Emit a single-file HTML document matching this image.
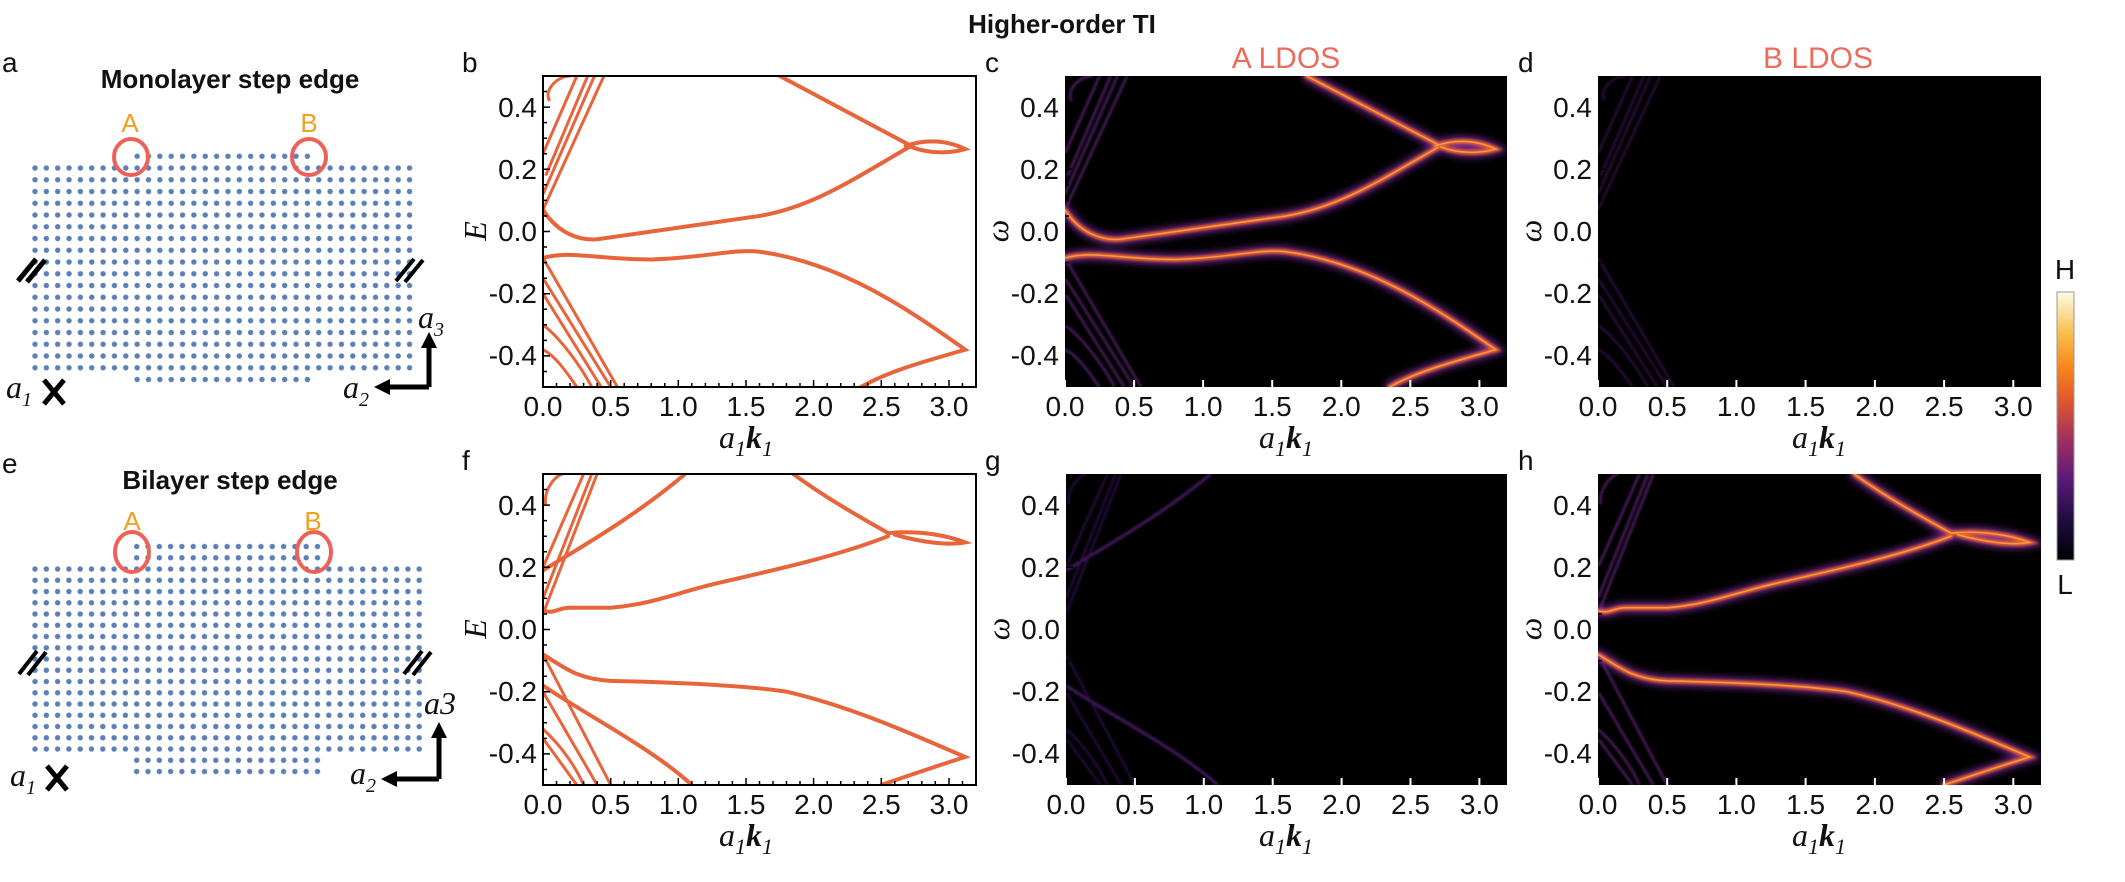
<!DOCTYPE html>
<html><head><meta charset="utf-8"><style>
html,body{margin:0;padding:0;background:#fff}
svg{display:block}
.tk{font-family:"Liberation Sans",sans-serif;font-size:28px;fill:#111}
.lab{font-family:"Liberation Serif",serif;font-style:italic;font-size:32px;fill:#111}
.ttl{font-family:"Liberation Sans",sans-serif;font-weight:bold;font-size:26px;fill:#111}
.pl{font-family:"Liberation Sans",sans-serif;font-size:28px;fill:#111}
.ld{font-family:"Liberation Sans",sans-serif;font-size:30px;fill:#ee6a5a}
.ab{font-family:"Liberation Sans",sans-serif;font-size:26px;fill:#f0a020}
</style></head><body>
<svg width="2125" height="882" viewBox="0 0 2125 882" xmlns="http://www.w3.org/2000/svg">
<defs>
<pattern id="dotT" patternUnits="userSpaceOnUse" x="29.325" y="162.125" width="11.35" height="11.75"><circle cx="5.675" cy="5.875" r="2.7" fill="#5b80b8"/></pattern>
<pattern id="dotB" patternUnits="userSpaceOnUse" x="29.35" y="563.375" width="11.3" height="11.25"><circle cx="5.65" cy="5.625" r="2.7" fill="#5b80b8"/></pattern>
<linearGradient id="cb" x1="0" y1="1" x2="0" y2="0">
<stop offset="0" stop-color="#000004"/><stop offset="0.15" stop-color="#200c40"/><stop offset="0.3" stop-color="#5a1a78"/><stop offset="0.45" stop-color="#a03060"/><stop offset="0.6" stop-color="#e05a2c"/><stop offset="0.72" stop-color="#f7861a"/><stop offset="0.85" stop-color="#f8c050"/><stop offset="1" stop-color="#fdfbe8"/>
</linearGradient>
<filter id="bl6" x="-20%" y="-20%" width="140%" height="140%"><feGaussianBlur stdDeviation="4"/></filter>
<filter id="bl2" x="-20%" y="-20%" width="140%" height="140%"><feGaussianBlur stdDeviation="1.2"/></filter>

<g id="topMain" fill="none" stroke-linecap="round">
<path vector-effect="non-scaling-stroke" d="M0,0.07 C0.1,0.0 0.25,-0.03 0.4,-0.025 C0.8,0.0 1.3,0.03 1.6,0.05 C2.0,0.08 2.3,0.17 2.7,0.27"/>
<path vector-effect="non-scaling-stroke" d="M1.75,0.5 C2.1,0.42 2.4,0.35 2.7,0.28"/>
<path vector-effect="non-scaling-stroke" d="M2.68,0.275 C2.85,0.3 3.0,0.29 3.12,0.265 C3.0,0.25 2.85,0.25 2.72,0.272"/>
<path vector-effect="non-scaling-stroke" d="M0,-0.085 C0.2,-0.06 0.4,-0.09 0.8,-0.09 C1.2,-0.085 1.4,-0.055 1.6,-0.065 C2.2,-0.1 2.7,-0.25 3.12,-0.38 C2.8,-0.42 2.55,-0.45 2.35,-0.5"/>
</g>
<g id="topSteep" fill="none">
<path vector-effect="non-scaling-stroke" d="M0,0.07 L0.45,0.5 M0,0.12 L0.38,0.5 M0.02,0.18 L0.33,0.5 M0,0.25 L0.25,0.5 M0.05,0.42 C0,0.45 0.1,0.5 0.2,0.5"/>
<path vector-effect="non-scaling-stroke" d="M0,-0.085 L0.55,-0.5 M0,-0.15 L0.5,-0.5 M0,-0.2 L0.43,-0.5 M0,-0.3 C0.15,-0.35 0.3,-0.45 0.36,-0.5 M0,-0.38 C0.1,-0.4 0.2,-0.47 0.25,-0.5"/>
</g>
<g id="botMain" fill="none" stroke-linecap="round">
<path vector-effect="non-scaling-stroke" d="M0,0.06 C0.1,0.05 0.1,0.07 0.2,0.07 L0.5,0.07 C0.8,0.08 1.0,0.12 1.3,0.15 C1.8,0.2 2.2,0.24 2.55,0.3"/>
<path vector-effect="non-scaling-stroke" d="M1.85,0.5 C2.1,0.42 2.35,0.36 2.55,0.31"/>
<path vector-effect="non-scaling-stroke" d="M2.55,0.31 C2.8,0.32 3.0,0.3 3.12,0.28 C3.0,0.27 2.8,0.28 2.6,0.305"/>
<path vector-effect="non-scaling-stroke" d="M0,-0.08 C0.15,-0.12 0.25,-0.16 0.5,-0.165 C1.0,-0.17 1.5,-0.18 1.8,-0.2 C2.3,-0.25 2.8,-0.35 3.12,-0.41 C2.9,-0.44 2.7,-0.47 2.5,-0.5"/>
</g>
<g id="botSide" fill="none">
<path vector-effect="non-scaling-stroke" d="M0,0.19 C0.3,0.27 0.7,0.37 1.05,0.5"/>
<path vector-effect="non-scaling-stroke" d="M0,-0.18 C0.3,-0.27 0.8,-0.38 1.1,-0.5"/>
</g>
<g id="botSteep" fill="none">
<path vector-effect="non-scaling-stroke" d="M0,0.05 L0.4,0.5 M0,0.1 L0.36,0.5 M0,0.2 L0.3,0.5 M0.02,0.4 C0,0.45 0.1,0.5 0.15,0.5"/>
<path vector-effect="non-scaling-stroke" d="M0,-0.08 L0.5,-0.5 M0,-0.2 L0.4,-0.5 M0,-0.32 C0.15,-0.38 0.25,-0.45 0.3,-0.5 M0,-0.35 L0.25,-0.5"/>
</g>

<g id="yt" class="tk" text-anchor="end">
<text x="-6" y="41">0.4</text><text x="-6" y="103">0.2</text><text x="-6" y="165">0.0</text><text x="-6" y="227">-0.2</text><text x="-6" y="289">-0.4</text>
</g>
<g id="ytick" stroke="#000" stroke-width="1.5">
<path d="M0,31.1h7M0,93.3h7M0,155.5h7M0,217.7h7M0,279.9h7M0,15.5h4M0,46.6h4M0,62.2h4M0,77.7h4M0,108.8h4M0,124.4h4M0,140h4M0,171h4M0,186.6h4M0,202.2h4M0,233.3h4M0,248.8h4M0,264.4h4M0,295.5h4"/>
</g>
</defs>

<text class="ttl" x="1062" y="33" text-anchor="middle" font-size="28">Higher-order TI</text>

<!-- Panel a -->
<text class="pl" x="2" y="72">a</text>
<text class="ttl" x="230" y="88" text-anchor="middle">Monolayer step edge</text>
<rect x="29.325" y="162.125" width="385.9" height="211.5" fill="url(#dotT)"/>
<rect x="131.475" y="150.375" width="181.6" height="11.75" fill="url(#dotT)"/>
<rect x="131.475" y="373.625" width="181.6" height="11.75" fill="url(#dotT)"/>
<text class="ab" x="130" y="132" text-anchor="middle">A</text>
<text class="ab" x="309" y="132" text-anchor="middle">B</text>
<ellipse cx="131" cy="157" rx="17" ry="18" fill="none" stroke="#ef6058" stroke-width="4"/>
<ellipse cx="309" cy="157" rx="17" ry="18" fill="none" stroke="#ef6058" stroke-width="4"/>
<path d="M18,281 L36,259 M27,282 L45,260" stroke="#000" stroke-width="5"/>
<path d="M396,281 L414,259 M405,282 L423,260" stroke="#000" stroke-width="4"/>
<path d="M429,387 V345 M429,387 H386" stroke="#000" stroke-width="5" fill="none"/>
<path d="M429,332 L421,348 L437,348 Z M374,387 L390,379 L390,395 Z" fill="#000"/>
<text class="lab" x="418" y="328" font-size="28">a<tspan font-size="20" dy="8">3</tspan></text>
<text class="lab" x="343" y="398" font-size="28">a<tspan font-size="20" dy="8">2</tspan></text>
<text class="lab" x="6" y="398" font-size="28">a<tspan font-size="20" dy="8">1</tspan></text>
<path d="M44,380 L64,404 M64,380 L44,404" stroke="#000" stroke-width="5"/>

<!-- Panel e -->
<text class="pl" x="2" y="473">e</text>
<text class="ttl" x="230" y="489" text-anchor="middle">Bilayer step edge</text>
<rect x="29.35" y="563.375" width="395.5" height="191.25" fill="url(#dotB)"/>
<rect x="131.05" y="540.875" width="192.1" height="22.5" fill="url(#dotB)"/>
<rect x="131.05" y="754.625" width="192.1" height="22.5" fill="url(#dotB)"/>
<text class="ab" x="132" y="530" text-anchor="middle">A</text>
<text class="ab" x="313" y="530" text-anchor="middle">B</text>
<ellipse cx="132" cy="552" rx="17" ry="20" fill="none" stroke="#ef6058" stroke-width="4"/>
<ellipse cx="314" cy="552" rx="17" ry="20" fill="none" stroke="#ef6058" stroke-width="4"/>
<path d="M19,674 L37,651 M28,675 L46,652" stroke="#000" stroke-width="4"/>
<path d="M404,674 L422,651 M413,675 L431,652" stroke="#000" stroke-width="4"/>
<path d="M439,779 V735 M439,779 H394" stroke="#000" stroke-width="5" fill="none"/>
<path d="M439,722 L431,738 L447,738 Z M381,779 L397,771 L397,787 Z" fill="#000"/>
<text class="lab" x="424" y="714" font-size="28">a3</text>
<text class="lab" x="350" y="784" font-size="28">a<tspan font-size="20" dy="8">2</tspan></text>
<text class="lab" x="10" y="786" font-size="28">a<tspan font-size="20" dy="8">1</tspan></text>
<path d="M47,766 L67,790 M67,766 L47,790" stroke="#000" stroke-width="5"/>

<!-- Panel b -->
<text class="pl" x="462" y="72">b</text>
<g transform="translate(543,76)">
 <svg x="0" y="0" width="433" height="311" overflow="hidden">
  <g transform="translate(0,155.5) scale(135.31,-311)" stroke="#e8643a" stroke-width="4">
   <use href="#topMain"/><use href="#topSteep" stroke-width="3"/>
  </g>
 </svg>
 <rect x="0" y="0" width="433" height="311" fill="none" stroke="#000" stroke-width="2"/>
 <use href="#ytick"/>
 <path d="M0,311v-7M67.7,311v-7M135.3,311v-7M203,311v-7M270.6,311v-7M338.3,311v-7M406,311v-7M13.5,311v-4M27,311v-4M40.6,311v-4M54.1,311v-4M81.2,311v-4M94.7,311v-4M108.2,311v-4M121.8,311v-4M148.8,311v-4M162.4,311v-4M175.9,311v-4M189.4,311v-4M216.5,311v-4M230,311v-4M243.5,311v-4M257,311v-4M284.2,311v-4M297.7,311v-4M311.2,311v-4M324.7,311v-4M351.8,311v-4M365.3,311v-4M378.8,311v-4M392.3,311v-4M419.5,311v-4" stroke="#000" stroke-width="1.5"/>
 <use href="#yt"/>
 <g class="tk" text-anchor="middle"><text x="0" y="340">0.0</text><text x="67.7" y="340">0.5</text><text x="135.3" y="340">1.0</text><text x="203" y="340">1.5</text><text x="270.6" y="340">2.0</text><text x="338.3" y="340">2.5</text><text x="406" y="340">3.0</text></g>
 <text class="lab" transform="translate(-57,155) rotate(-90)" text-anchor="middle">E</text>
 <text class="lab" x="203" y="372" text-anchor="middle">a<tspan font-size="22" dy="8">1</tspan><tspan font-weight="bold" dy="-8">k</tspan><tspan font-size="22" dy="8">1</tspan></text>
</g>

<!-- Panel f -->
<text class="pl" x="462" y="470">f</text>
<g transform="translate(543,474)">
 <svg x="0" y="0" width="433" height="311" overflow="hidden">
  <g transform="translate(0,155.5) scale(135.31,-311)" stroke="#e8643a" stroke-width="4">
   <use href="#botMain"/><use href="#botSide"/><use href="#botSteep" stroke-width="3"/>
  </g>
 </svg>
 <rect x="0" y="0" width="433" height="311" fill="none" stroke="#000" stroke-width="2"/>
 <use href="#ytick"/>
 <path d="M0,311v-7M67.7,311v-7M135.3,311v-7M203,311v-7M270.6,311v-7M338.3,311v-7M406,311v-7M13.5,311v-4M27,311v-4M40.6,311v-4M54.1,311v-4M81.2,311v-4M94.7,311v-4M108.2,311v-4M121.8,311v-4M148.8,311v-4M162.4,311v-4M175.9,311v-4M189.4,311v-4M216.5,311v-4M230,311v-4M243.5,311v-4M257,311v-4M284.2,311v-4M297.7,311v-4M311.2,311v-4M324.7,311v-4M351.8,311v-4M365.3,311v-4M378.8,311v-4M392.3,311v-4M419.5,311v-4" stroke="#000" stroke-width="1.5"/>
 <use href="#yt"/>
 <g class="tk" text-anchor="middle"><text x="0" y="340">0.0</text><text x="67.7" y="340">0.5</text><text x="135.3" y="340">1.0</text><text x="203" y="340">1.5</text><text x="270.6" y="340">2.0</text><text x="338.3" y="340">2.5</text><text x="406" y="340">3.0</text></g>
 <text class="lab" transform="translate(-57,155) rotate(-90)" text-anchor="middle">E</text>
 <text class="lab" x="203" y="372" text-anchor="middle">a<tspan font-size="22" dy="8">1</tspan><tspan font-weight="bold" dy="-8">k</tspan><tspan font-size="22" dy="8">1</tspan></text>
</g>

<!-- Panel c -->
<text class="pl" x="985" y="72">c</text>
<text class="ld" x="1286" y="68" text-anchor="middle">A LDOS</text>
<g transform="translate(1065,76)">
 <svg x="0" y="0" width="442" height="311" overflow="hidden">
  <rect width="442" height="311" fill="#000"/>
  <g filter="url(#bl6)"><g transform="translate(0,155.5) scale(138.1,-311)" stroke="#7a2a9a" stroke-width="9"><use href="#topMain"/></g></g>
  <g filter="url(#bl2)"><g transform="translate(0,155.5) scale(138.1,-311)" stroke="#e8602a" stroke-width="5"><use href="#topMain"/></g>
   <g transform="translate(0,155.5) scale(138.1,-311)" stroke="#7a3098" stroke-width="2" opacity="0.8"><use href="#topSteep"/></g></g>
  <g transform="translate(0,155.5) scale(138.1,-311)" stroke="#f89a40" stroke-width="1.5"><use href="#topMain"/></g>
 </svg>
 <use href="#ytick"/>
 <path d="M0,311v-7M69.1,311v-7M138.1,311v-7M207.2,311v-7M276.3,311v-7M345.3,311v-7M414.4,311v-7" stroke="#fff" stroke-width="2"/>
 <use href="#yt"/>
 <g class="tk" text-anchor="middle"><text x="0" y="340">0.0</text><text x="69.1" y="340">0.5</text><text x="138.1" y="340">1.0</text><text x="207.2" y="340">1.5</text><text x="276.3" y="340">2.0</text><text x="345.3" y="340">2.5</text><text x="414.4" y="340">3.0</text></g>
 <text class="lab" transform="translate(-57,155) rotate(-90)" text-anchor="middle">ω</text>
 <text class="lab" x="221" y="372" text-anchor="middle">a<tspan font-size="22" dy="8">1</tspan><tspan font-weight="bold" dy="-8">k</tspan><tspan font-size="22" dy="8">1</tspan></text>
</g>

<!-- Panel d -->
<text class="pl" x="1518" y="72">d</text>
<text class="ld" x="1818" y="68" text-anchor="middle">B LDOS</text>
<g transform="translate(1598,76)">
 <svg x="0" y="0" width="443" height="311" overflow="hidden">
  <rect width="443" height="311" fill="#000"/>
  <g filter="url(#bl2)" opacity="0.6"><g transform="translate(0,155.5) scale(138.4,-311)" stroke="#5a2080" stroke-width="2"><use href="#topSteep"/></g></g>
 </svg>
 <use href="#ytick"/>
 <path d="M0,311v-7M69.2,311v-7M138.4,311v-7M207.6,311v-7M276.9,311v-7M346.1,311v-7M415.3,311v-7" stroke="#fff" stroke-width="2"/>
 <use href="#yt"/>
 <g class="tk" text-anchor="middle"><text x="0" y="340">0.0</text><text x="69.2" y="340">0.5</text><text x="138.4" y="340">1.0</text><text x="207.6" y="340">1.5</text><text x="276.9" y="340">2.0</text><text x="346.1" y="340">2.5</text><text x="415.3" y="340">3.0</text></g>
 <text class="lab" transform="translate(-57,155) rotate(-90)" text-anchor="middle">ω</text>
 <text class="lab" x="221" y="372" text-anchor="middle">a<tspan font-size="22" dy="8">1</tspan><tspan font-weight="bold" dy="-8">k</tspan><tspan font-size="22" dy="8">1</tspan></text>
</g>

<!-- Panel g -->
<text class="pl" x="985" y="470">g</text>
<g transform="translate(1066,474)">
 <svg x="0" y="0" width="441" height="311" overflow="hidden">
  <rect width="441" height="311" fill="#000"/>
  <g filter="url(#bl2)" opacity="0.8"><g transform="translate(0,155.5) scale(137.8,-311)" stroke="#5a2080" stroke-width="3"><use href="#botSide"/></g>
  <g transform="translate(0,155.5) scale(137.8,-311)" stroke="#3a1560" stroke-width="2"><use href="#botSteep"/></g></g>
 </svg>
 <use href="#ytick"/>
 <path d="M0,311v-7M68.9,311v-7M137.8,311v-7M206.7,311v-7M275.6,311v-7M344.5,311v-7M413.4,311v-7" stroke="#fff" stroke-width="2"/>
 <use href="#yt"/>
 <g class="tk" text-anchor="middle"><text x="0" y="340">0.0</text><text x="68.9" y="340">0.5</text><text x="137.8" y="340">1.0</text><text x="206.7" y="340">1.5</text><text x="275.6" y="340">2.0</text><text x="344.5" y="340">2.5</text><text x="413.4" y="340">3.0</text></g>
 <text class="lab" transform="translate(-57,155) rotate(-90)" text-anchor="middle">ω</text>
 <text class="lab" x="220" y="372" text-anchor="middle">a<tspan font-size="22" dy="8">1</tspan><tspan font-weight="bold" dy="-8">k</tspan><tspan font-size="22" dy="8">1</tspan></text>
</g>

<!-- Panel h -->
<text class="pl" x="1518" y="470">h</text>
<g transform="translate(1598,474)">
 <svg x="0" y="0" width="443" height="311" overflow="hidden">
  <rect width="443" height="311" fill="#000"/>
  <g filter="url(#bl6)"><g transform="translate(0,155.5) scale(138.4,-311)" stroke="#7a2a9a" stroke-width="9"><use href="#botMain"/></g></g>
  <g filter="url(#bl2)"><g transform="translate(0,155.5) scale(138.4,-311)" stroke="#e8602a" stroke-width="5"><use href="#botMain"/></g>
   <g transform="translate(0,155.5) scale(138.4,-311)" stroke="#7a3098" stroke-width="2" opacity="0.8"><use href="#botSteep"/></g></g>
  <g transform="translate(0,155.5) scale(138.4,-311)" stroke="#f89a40" stroke-width="1.5"><use href="#botMain"/></g>
 </svg>
 <use href="#ytick"/>
 <path d="M0,311v-7M69.2,311v-7M138.4,311v-7M207.6,311v-7M276.9,311v-7M346.1,311v-7M415.3,311v-7" stroke="#fff" stroke-width="2"/>
 <use href="#yt"/>
 <g class="tk" text-anchor="middle"><text x="0" y="340">0.0</text><text x="69.2" y="340">0.5</text><text x="138.4" y="340">1.0</text><text x="207.6" y="340">1.5</text><text x="276.9" y="340">2.0</text><text x="346.1" y="340">2.5</text><text x="415.3" y="340">3.0</text></g>
 <text class="lab" transform="translate(-57,155) rotate(-90)" text-anchor="middle">ω</text>
 <text class="lab" x="221" y="372" text-anchor="middle">a<tspan font-size="22" dy="8">1</tspan><tspan font-weight="bold" dy="-8">k</tspan><tspan font-size="22" dy="8">1</tspan></text>
</g>

<!-- Colorbar -->
<text class="pl" x="2065" y="279" text-anchor="middle" font-size="30">H</text>
<rect x="2057" y="292" width="17" height="268" fill="url(#cb)" stroke="#999" stroke-width="1"/>
<text class="pl" x="2065" y="594" text-anchor="middle" font-size="30">L</text>
</svg>
</body></html>
